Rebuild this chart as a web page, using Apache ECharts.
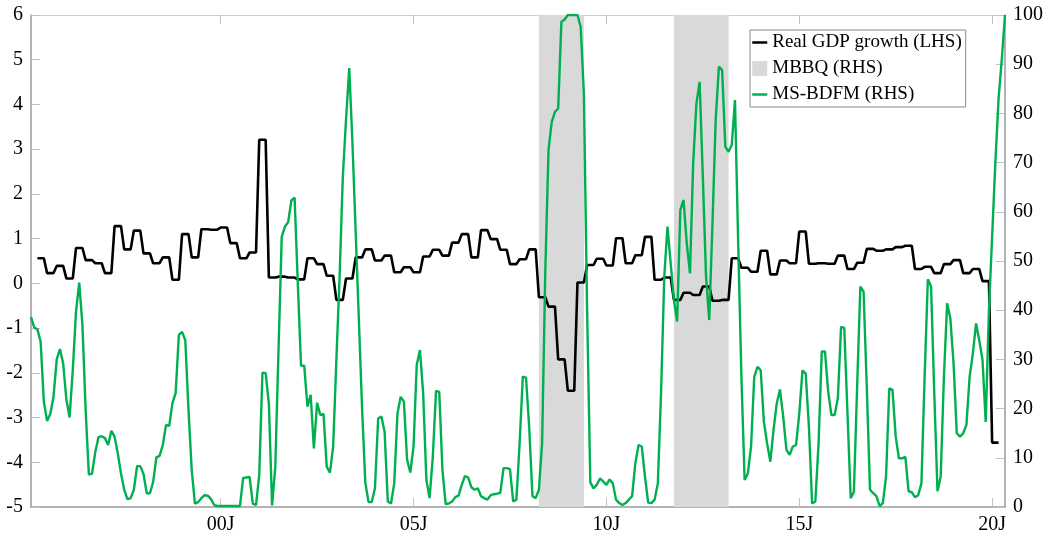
<!DOCTYPE html>
<html>
<head>
<meta charset="utf-8">
<script src="https://cdn.jsdelivr.net/npm/echarts@6/dist/echarts.min.js"></script>
<style>
html, body { margin: 0; padding: 0; background: #fff; }
#main { width: 1051px; height: 538px; }
</style>
</head>
<body>
<div id="main"></div>
<script>
// quarterly real GDP growth, 1995Q2 .. 2020Q1 (LHS)
var gdpStart = '1995-04';
var gdp = [
    0.56, 0.23, 0.39, 0.11, 0.79, 0.52, 0.45, 0.23, 1.28, 0.76,
    1.18, 0.67, 0.45, 0.58, 0.08, 1.10, 0.58, 1.21, 1.20, 1.25,
    0.90, 0.56, 0.69, 3.21, 0.13, 0.15, 0.13, 0.09, 0.56, 0.43,
    0.17, -0.37, 0.11, 0.58, 0.76, 0.51, 0.62, 0.25, 0.36, 0.25,
    0.60, 0.75, 0.62, 0.91, 1.10, 0.58, 1.19, 0.99, 0.75, 0.43,
    0.54, 0.76, -0.31, -0.52, -1.70, -2.40, 0.02, 0.41, 0.55, 0.40,
    1.01, 0.45, 0.63, 1.04, 0.08, 0.13, -0.37, -0.21, -0.26, -0.07,
    -0.39, -0.37, 0.56, 0.35, 0.26, 0.73, 0.20, 0.51, 0.45, 1.16,
    0.44, 0.45, 0.44, 0.62, 0.32, 0.46, 0.77, 0.73, 0.76, 0.81,
    0.84, 0.32, 0.37, 0.23, 0.43, 0.52, 0.23, 0.32, 0.05, -3.56
];

// monthly MS-BDFM recession probability, 1995-02 .. 2020-05 (RHS)
var probStart = '1995-02';
var prob = [
    38.6, 36.5, 36.1, 33.6, 21.4, 17.5, 18.9, 22.4, 30.0, 32.1, 29.2,
    21.9, 18.2, 27.8, 39.7, 45.6, 37.0, 19.7, 6.6, 6.8, 11.2, 14.2, 14.4,
    14.0, 12.6, 15.5, 14.3, 10.9, 6.8, 3.5, 1.6, 1.8, 3.5, 8.3, 8.3,
    6.7, 2.8, 2.8, 5.1, 10.1, 10.4, 12.6, 16.7, 16.5, 21.1, 23.2, 35.0,
    35.6, 33.9, 19.7, 7.5, 0.7, 1.0, 1.8, 2.4, 2.3, 1.6, 0.4, 0.2,
    0.2, 0.2, 0.2, 0.2, 0.2, 0.2, 0.2, 5.9, 6.0, 6.1, 0.7, 0.4,
    6.5, 27.3, 27.2, 21.0, 0.3, 8.2, 31.9, 54.9, 57.0, 57.9, 62.3, 62.9,
    45.5, 28.7, 28.7, 20.4, 22.8, 11.9, 21.2, 18.7, 18.9, 8.2, 7.0, 12.3,
    29.9, 46.8, 67.1, 78.7, 89.2, 74.0, 56.0, 38.0, 20.0, 5.0, 1.0, 1.0,
    3.8, 18.0, 18.4, 15.3, 1.1, 0.7, 4.8, 19.0, 22.4, 21.4, 9.6, 7.0,
    12.3, 28.9, 31.9, 23.1, 5.5, 1.8, 10.2, 23.6, 23.4, 7.5, 0.6, 0.7,
    1.1, 2.0, 2.3, 4.5, 6.3, 6.0, 4.0, 3.5, 3.8, 2.2, 1.8, 1.5,
    2.4, 2.6, 2.7, 2.9, 7.9, 7.9, 7.7, 1.1, 1.5, 12.9, 26.5, 26.3,
    16.0, 2.2, 1.8, 3.5, 12.9, 48.2, 72.6, 78.3, 80.3, 81.0, 98.6, 99.1,
    100, 100, 100, 100, 97.6, 84.0, 40.0, 5.0, 3.8, 4.5, 5.8, 5.2,
    4.5, 5.6, 4.8, 1.5, 0.8, 0.4, 0.8, 1.5, 2.2, 8.9, 12.6, 12.3,
    6.2, 0.9, 0.8, 1.5, 4.8, 23.1, 46.8, 57.0, 49.5, 42.1, 37.7, 60.4,
    62.4, 53.6, 47.5, 70.0, 82.0, 86.4, 67.1, 46.8, 38.0, 57.7, 78.7, 89.5,
    88.8, 73.2, 72.2, 73.6, 82.7, 53.6, 26.5, 5.5, 6.8, 12.3, 26.5, 28.5,
    27.8, 17.3, 12.9, 9.2, 15.7, 21.1, 23.9, 18.4, 11.6, 10.6, 12.3, 12.6,
    19.0, 27.8, 27.1, 16.3, 0.7, 1.1, 12.9, 31.6, 31.6, 23.4, 18.7, 18.7,
    22.1, 36.6, 36.4, 19.0, 1.8, 3.1, 24.5, 44.8, 43.8, 24.5, 3.5, 2.8,
    2.2, 0.2, 0.8, 6.2, 24.1, 23.8, 14.3, 9.9, 9.9, 10.2, 3.2, 3.0,
    2.0, 2.4, 4.8, 26.5, 46.3, 44.8, 23.1, 3.2, 6.2, 26.5, 41.4, 38.3,
    29.2, 15.0, 14.3, 15.0, 16.7, 26.5, 31.2, 37.3, 33.9, 29.9, 17.3, 40.0,
    55.0, 70.0, 83.0, 91.0, 100
];

// MBBQ recession periods (first and last month)
var recessions = [['2008-04', '2009-05'], ['2011-10', '2013-02']];

var tickMonths = ['2000-01', '2005-01', '2010-01', '2015-01', '2020-01'];
var axisFirst = '1995-02';
var axisLast = '2020-05';

// months counted from 1995-01
function monthPos(s) {
    var p = s.split('-');
    return (parseInt(p[0], 10) - 1995) * 12 + parseInt(p[1], 10) - 1;
}

function posLabel(v) {
    var year = 1995 + Math.floor(v / 12);
    return String(year).slice(2) + 'J';
}

var gdpLine = [];
var g0 = monthPos(gdpStart);
gdp.forEach(function(v, i) {
    for (var k = 0; k < 3; k++) {
        gdpLine.push([g0 + 3 * i + k, v]);
    }
});

var p0 = monthPos(probStart);
var probLine = prob.map(function(v, i) {
    return [p0 + i, v];
});

var mbbqLine = [];
for (var m = monthPos(axisFirst); m <= monthPos(axisLast); m++) {
    var inRec = recessions.some(function(r) {
        return m >= monthPos(r[0]) && m <= monthPos(r[1]);
    });
    mbbqLine.push([m, inRec ? 100 : 0]);
}

var ticks = tickMonths.map(monthPos);
var font = 'Liberation Serif';
var axisGrey = '#9a9a9a';

var chart = echarts.init(document.getElementById('main'));

var options = {
    animation: false,
    grid: { left: 31, right: 46, top: 15, bottom: 31 },
    legend: {
        orient: 'vertical',
        left: 750,
        top: 30,
        itemGap: 7,
        itemWidth: 15,
        itemHeight: 15,
        padding: [3, 4, 3, 1],
        borderColor: '#8a8a8a',
        borderWidth: 1,
        backgroundColor: '#fff',
        itemStyle: { opacity: 0 },
        lineStyle: { width: 2.5 },
        textStyle: { fontFamily: font, fontSize: 19, color: '#000' },
        data: [
            { name: 'Real GDP growth (LHS)' },
            { name: 'MBBQ (RHS)', icon: 'rect', itemStyle: { opacity: 1, color: '#d9d9d9' } },
            { name: 'MS-BDFM (RHS)' }
        ]
    },
    xAxis: [{
        type: 'value',
        min: monthPos(axisFirst),
        max: monthPos(axisLast),
        splitLine: { show: false },
        axisLine: { onZero: false, lineStyle: { color: axisGrey, width: 1.5 } },
        axisTick: { inside: true, length: 9, customValues: ticks, lineStyle: { color: '#c0c0c0' } },
        axisLabel: {
            customValues: ticks,
            formatter: posLabel,
            margin: 8,
            fontFamily: font,
            fontSize: 20,
            color: '#000'
        }
    }, {
        type: 'value',
        position: 'top',
        min: monthPos(axisFirst),
        max: monthPos(axisLast),
        splitLine: { show: false },
        axisLine: { onZero: false, lineStyle: { color: '#cfcfcf', width: 1 } },
        axisTick: { inside: true, length: 9, customValues: ticks, lineStyle: { color: '#c0c0c0' } },
        axisLabel: { show: false }
    }],
    yAxis: [{
        type: 'value',
        min: -5,
        max: 6,
        interval: 1,
        splitLine: { show: false },
        axisLine: { show: true, onZero: false, lineStyle: { color: axisGrey, width: 1.5 } },
        axisTick: { show: true, inside: true, length: 9, lineStyle: { color: '#c0c0c0' } },
        axisLabel: { margin: 8, fontFamily: font, fontSize: 20, color: '#000' }
    }, {
        type: 'value',
        min: 0,
        max: 100,
        interval: 10,
        position: 'right',
        splitLine: { show: false },
        axisLine: { show: true, onZero: false, lineStyle: { color: axisGrey, width: 1.5 } },
        axisTick: { show: true, inside: true, length: 9, lineStyle: { color: '#c0c0c0' } },
        axisLabel: { margin: 8, fontFamily: font, fontSize: 20, color: '#000' }
    }],
    series: [{
        name: 'MBBQ (RHS)',
        type: 'line',
        yAxisIndex: 1,
        step: 'end',
        symbol: 'none',
        data: mbbqLine,
        itemStyle: { color: '#d9d9d9' },
        lineStyle: { width: 0, color: '#d9d9d9' },
        areaStyle: { color: '#d9d9d9', opacity: 1 },
        z: 1
    }, {
        name: 'Real GDP growth (LHS)',
        type: 'line',
        yAxisIndex: 0,
        symbol: 'none',
        data: gdpLine,
        itemStyle: { color: '#000' },
        lineStyle: { width: 2.6, color: '#000' },
        z: 3
    }, {
        name: 'MS-BDFM (RHS)',
        type: 'line',
        yAxisIndex: 1,
        symbol: 'none',
        data: probLine,
        itemStyle: { color: '#00b050' },
        lineStyle: { width: 2.4, color: '#00b050' },
        z: 4
    }]
};

chart.setOption(options);
</script>
</body>
</html>
